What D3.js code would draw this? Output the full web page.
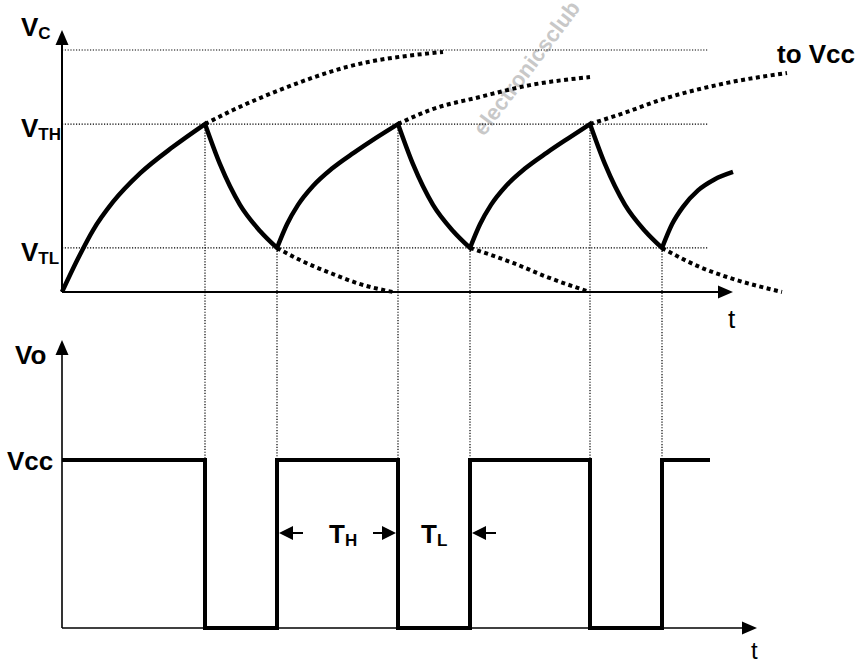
<!DOCTYPE html>
<html>
<head>
<meta charset="utf-8">
<script src="https://cdn.jsdelivr.net/npm/d3@7"></script>
<style>
  html, body { margin: 0; padding: 0; background: #fff; }
  svg { display: block; font-family: "Liberation Sans", Arial, sans-serif; }
</style>
</head>
<body>
<svg id="chart" width="857" height="661"></svg>
<script>
// time in arbitrary units, voltages as fraction of Vcc
const switchTimes = [143, 215, 336, 408, 528, 600];
const vth = 0.694;
const vtl = 0.182;

// capacitor voltage, solid segments
const vcSegments = [
  [[0, 0], [15, 0.13], [31, 0.255], [51, 0.372], [78, 0.49], [111, 0.6], [143, 0.694]],
  [[143, 0.694], [158, 0.528], [178, 0.36], [198, 0.252], [215, 0.182]],
  [[215, 0.182], [225, 0.28], [236, 0.36], [251, 0.438], [270, 0.51], [292, 0.576], [314, 0.637], [336, 0.694]],
  [[336, 0.694], [351, 0.528], [371, 0.36], [391, 0.252], [408, 0.182]],
  [[408, 0.182], [418, 0.28], [429, 0.36], [444, 0.438], [463, 0.51], [485, 0.576], [507, 0.637], [528, 0.694]],
  [[528, 0.694], [543, 0.528], [563, 0.36], [583, 0.252], [600, 0.182]],
  [[600, 0.182], [610, 0.28], [621, 0.352], [636, 0.42], [652, 0.464], [671, 0.496]],
];

// dashed continuations (towards Vcc / towards 0)
const chargeTails = [
  [[143, 0.694], [171, 0.752], [218, 0.835], [285, 0.93], [381, 0.992]],
  [[336, 0.694], [368, 0.752], [418, 0.806], [468, 0.855], [528, 0.888]],
  [[528, 0.694], [565, 0.744], [598, 0.793], [665, 0.864], [725, 0.905]],
];
const dischargeTails = [
  [[215, 0.182], [238, 0.132], [268, 0.079], [301, 0.029], [331, 0]],
  [[408, 0.182], [451, 0.12], [485, 0.062], [525, 0.004]],
  [[600, 0.182], [638, 0.103], [665, 0.062], [720, 0]],
];

// output square wave
const outputSteps = [[0, 1], [143, 0], [215, 1], [336, 0], [408, 1], [528, 0], [600, 1], [648, 1]];

const guideLevels = [1, vth, vtl];
const guideEnd = 646;
const topAxisEnd = 671;
const botAxisEnd = 695;

const svg = d3.select("#chart");

const x = d3.scaleLinear().domain([0, 700]).range([62, 762]);
const yTop = d3.scaleLinear().domain([0, 1]).range([292, 50]);
const yBot = d3.scaleLinear().domain([0, 1]).range([628, 460]);

const line = (yScale) => d3.line()
  .x((d) => x(d[0]))
  .y((d) => yScale(d[1]))
  .curve(d3.curveMonotoneX);

// watermark
svg.append("text")
  .attr("transform", "translate(484,137) rotate(-53)")
  .attr("font-size", 22)
  .attr("font-weight", "bold")
  .attr("fill", "#c8c8c8")
  .text("electronicsclub");

// dotted guides
const guides = svg.append("g")
  .attr("stroke", "#000")
  .attr("stroke-width", 1.2)
  .attr("stroke-dasharray", "1.2,1.6");

guides.selectAll("line.h")
  .data(guideLevels)
  .join("line")
  .attr("class", "h")
  .attr("x1", x(0))
  .attr("x2", x(guideEnd))
  .attr("y1", (d) => yTop(d))
  .attr("y2", (d) => yTop(d));

guides.selectAll("line.v")
  .data(switchTimes)
  .join("line")
  .attr("class", "v")
  .attr("x1", (d) => x(d))
  .attr("x2", (d) => x(d))
  .attr("y1", (d, i) => yTop(i % 2 === 0 ? vth : vtl))
  .attr("y2", yBot(1));

// axes
function arrowAxis(g, x1, y1, x2, y2, w) {
  g.append("line")
    .attr("x1", x1).attr("y1", y1).attr("x2", x2).attr("y2", y2)
    .attr("stroke", "#000").attr("stroke-width", w);
}
function arrowHead(g, tipX, tipY, dir) {
  const len = 15, half = 6.5;
  let pts;
  if (dir === "up") pts = [[tipX, tipY], [tipX - half, tipY + len], [tipX + half, tipY + len]];
  else if (dir === "right") pts = [[tipX, tipY], [tipX - len, tipY - half], [tipX - len, tipY + half]];
  else pts = [[tipX, tipY], [tipX + len, tipY - half], [tipX + len, tipY + half]];
  g.append("path").attr("d", "M" + pts.join("L") + "Z").attr("fill", "#000");
}

const axes = svg.append("g");
arrowAxis(axes, x(0), yTop(0), x(0), yTop(1.05), 2);
arrowHead(axes, x(0), yTop(1.083), "up");
arrowAxis(axes, x(0), yTop(0), x(topAxisEnd) - 10, yTop(0), 2);
arrowHead(axes, x(topAxisEnd), yTop(0), "right");

arrowAxis(axes, x(0), yBot(0), x(0), yBot(1.65), 1.6);
arrowHead(axes, x(0), yBot(1.714), "up");
arrowAxis(axes, x(0), yBot(0), x(botAxisEnd) - 10, yBot(0), 1.4);
arrowHead(axes, x(botAxisEnd), yBot(0), "right");

// dashed tails
const tails = svg.append("g")
  .attr("fill", "none")
  .attr("stroke", "#000")
  .attr("stroke-width", 4)
  .attr("stroke-dasharray", "4,3.5");
tails.selectAll("path.charge")
  .data(chargeTails)
  .join("path")
  .attr("class", "charge")
  .attr("d", line(yTop));
tails.selectAll("path.discharge")
  .data(dischargeTails)
  .join("path")
  .attr("class", "discharge")
  .attr("d", line(yTop));

// capacitor voltage as one joined path
const vcPath = vcSegments
  .map((seg, i) => {
    const d = line(yTop)(seg);
    return i === 0 ? d : "L" + d.slice(1);
  })
  .join("");
svg.append("path")
  .attr("d", vcPath)
  .attr("fill", "none")
  .attr("stroke", "#000")
  .attr("stroke-width", 4.5)
  .attr("stroke-linejoin", "miter");

// output voltage
svg.append("path")
  .attr("d", d3.line()
    .x((d) => x(d[0]))
    .y((d) => yBot(d[1]))
    .curve(d3.curveStepAfter)(outputSteps))
  .attr("fill", "none")
  .attr("stroke", "#000")
  .attr("stroke-width", 4);

// labels
function subLabel(px, py, main, sub, size, subSize, anchor) {
  const t = svg.append("text")
    .attr("x", px).attr("y", py)
    .attr("font-size", size)
    .attr("font-weight", "bold")
    .attr("text-anchor", anchor || "start");
  t.append("tspan").text(main);
  if (sub) t.append("tspan").attr("font-size", subSize).attr("dy", 3).text(sub);
  return t;
}

subLabel(21, 36, "V", "C", 26, 17);
subLabel(21, yTop(vth) + 13, "V", "TH", 26, 17);
subLabel(21, yTop(vtl) + 13, "V", "TL", 26, 17);
subLabel(15, 364, "Vo", null, 26);
subLabel(7, yBot(1) + 10, "Vcc", null, 26);
subLabel(777, 63, "to Vcc", null, 26);

svg.append("text").attr("x", 728).attr("y", 328).attr("font-size", 26).text("t");
svg.append("text").attr("x", 751).attr("y", 659).attr("font-size", 24).text("t");

// period markers
const markY = 533;
subLabel(329, markY + 10, "T", "H", 26, 17);
subLabel(421, markY + 10, "T", "L", 26, 17);

const marks = svg.append("g");
function markArrow(fromT, toT) {
  const x1 = x(fromT), x2 = x(toT);
  const dir = x2 > x1 ? 1 : -1;
  marks.append("line")
    .attr("x1", x1).attr("y1", markY)
    .attr("x2", x2 - dir * 12).attr("y2", markY)
    .attr("stroke", "#000").attr("stroke-width", 2);
  marks.append("path")
    .attr("d", `M${x2},${markY}L${x2 - dir * 14},${markY - 7}L${x2 - dir * 14},${markY + 7}Z`)
    .attr("fill", "#000");
}
markArrow(switchTimes[1] + 26, switchTimes[1] + 2);
markArrow(switchTimes[2] - 25, switchTimes[2] - 2);
markArrow(switchTimes[3] + 26, switchTimes[3] + 2);
</script>
</body>
</html>
